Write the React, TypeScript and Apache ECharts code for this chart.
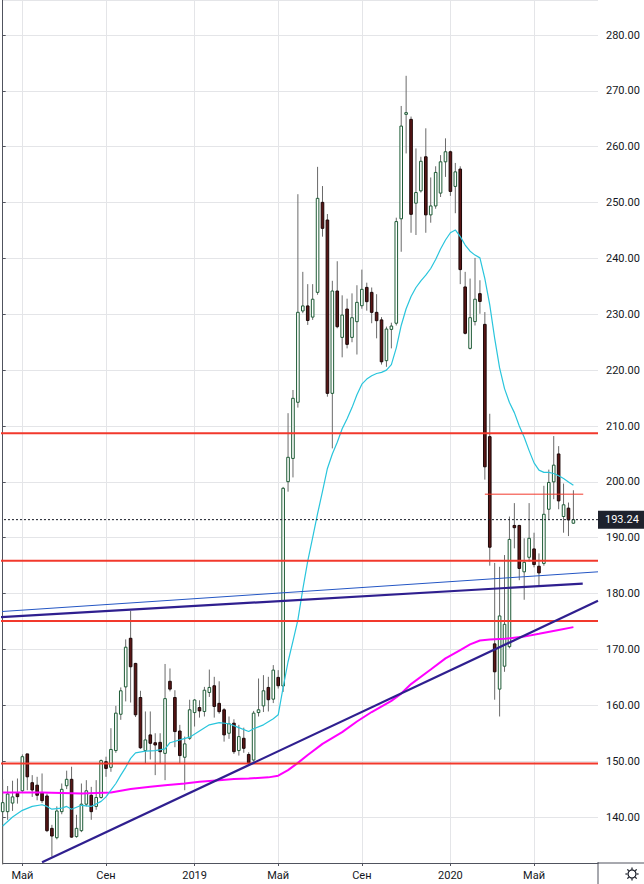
import React, { useEffect, useRef } from "react";
import * as echarts from "echarts";

// ---------- data ----------
const START = Date.UTC(2018, 3, 9);
const WEEKS = 122; // 117 weekly bars + empty space on the right
const categories: string[] = Array.from({ length: WEEKS }, (_, i) =>
  new Date(START + i * 7 * 86400000).toISOString().slice(0, 10)
);

const tickIndex = [4, 21, 39, 56, 73, 91, 108];
const tickText = ["Май", "Сен", "2019", "Май", "Сен", "2020", "Май"];

const open = [
  140.96, 140.96, 142.5, 144.24, 144.7, 151.3, 146.15, 145.7, 144.36, 143.77,
  137.97, 136.3, 140.96, 145.6, 146.75, 136.5, 137.56, 142.3, 143.9, 141.9,
  143.5, 149.9, 148.9, 151.9, 158.4, 163.3, 172.0, 167.5, 161.4, 151.9,
  154.7, 153.3, 153.37, 151.4, 164.3, 161.4, 155.4, 150.7, 154.1, 158.7,
  159.6, 158.9, 162.3, 163.5, 160.35, 159.2, 155.0, 156.8, 151.9, 154.1,
  151.2, 150.2, 158.7, 159.9, 163.2, 161.1, 165.0, 163.46, 200.04, 204.2,
  214.25, 230.6, 231.5, 229.5, 233.93, 250.04, 246.88, 215.85, 234.17, 225.87,
  230.94, 225.87, 228.68, 231.54, 234.82, 233.93, 230.35, 229.0, 221.7, 227.3,
  228.4, 247.1, 265.8, 264.9, 249.9, 252.1, 258.2, 247.8, 249.4, 251.7,
  257.3, 259.1, 252.9, 256.0, 234.9, 223.9, 228.7, 233.7, 228.2, 208.1,
  171.0, 162.9, 167.0, 170.5, 192.2, 192.2, 183.9, 186.5, 188.0, 184.9,
  185.4, 195.1, 200.0, 205.0, 193.8, 195.3, 192.6,
];
const close = [
  142.57, 144.12, 143.6, 143.65, 150.8, 147.2, 144.84, 143.9, 142.93, 137.56,
  136.6, 141.08, 144.96, 146.75, 136.4, 137.97, 142.3, 144.7, 140.96, 143.5,
  150.1, 148.7, 152.1, 158.6, 162.6, 170.4, 166.9, 158.3, 152.4, 153.8,
  153.2, 152.9, 151.7, 161.2, 162.9, 155.3, 151.0, 153.1, 159.2, 160.95,
  159.0, 162.7, 163.2, 159.8, 158.86, 154.7, 156.7, 151.7, 154.4, 152.3,
  149.7, 158.6, 159.2, 162.6, 161.0, 166.3, 163.5, 198.85, 204.4, 214.96,
  230.36, 231.5, 228.9, 232.7, 250.76, 245.39, 215.85, 234.17, 227.78, 229.87,
  224.62, 229.39, 232.14, 234.47, 232.26, 230.35, 228.86, 221.5, 227.36, 227.9,
  246.6, 263.7, 266.1, 247.9, 251.8, 257.4, 247.8, 249.4, 255.4, 257.3,
  259.1, 252.0, 255.5, 238.0, 226.6, 229.4, 232.7, 232.3, 202.7, 188.3,
  166.0, 176.0, 174.5, 189.7, 191.8, 184.5, 185.6, 189.9, 185.2, 183.7,
  194.2, 199.9, 203.0, 196.6, 195.9, 193.2, 193.24,
];
const low = [
  131.5, 139.5, 141.1, 142.4, 144.5, 144.8, 143.6, 143.0, 142.5, 137.3,
  132.9, 136.0, 140.5, 145.0, 136.3, 136.3, 137.3, 141.9, 139.5, 141.3,
  143.3, 147.2, 148.1, 151.5, 157.4, 160.7, 160.5, 157.9, 152.2, 149.6,
  150.3, 147.5, 149.5, 146.6, 162.5, 152.5, 149.6, 144.8, 153.8, 156.2,
  157.8, 158.0, 161.5, 157.8, 158.5, 153.5, 154.0, 151.3, 151.0, 151.5,
  149.2, 149.9, 158.0, 158.8, 158.9, 160.4, 163.0, 162.4, 198.25, 200.8,
  213.3, 230.2, 228.1, 229.0, 233.5, 243.9, 215.25, 206.0, 227.5, 222.3,
  223.9, 225.0, 222.8, 231.0, 230.65, 228.4, 225.7, 221.0, 220.6, 223.9,
  228.0, 241.2, 258.8, 244.6, 244.2, 251.8, 244.6, 246.4, 248.9, 251.0,
  254.6, 251.2, 248.1, 235.4, 226.4, 223.7, 228.0, 230.1, 200.4, 185.0,
  161.0, 158.0, 166.0, 170.2, 188.1, 182.4, 178.9, 185.7, 184.7, 181.5,
  185.0, 193.2, 196.9, 195.1, 190.9, 190.3, 192.5,
];
const high = [
  146.75, 145.55, 146.5, 146.9, 151.2, 151.3, 147.5, 147.2, 147.8, 144.2,
  138.6, 141.9, 146.0, 148.3, 149.0, 140.4, 146.0, 146.6, 145.4, 146.6,
  150.3, 150.8, 155.9, 159.9, 163.2, 171.8, 176.9, 167.6, 162.6, 158.9,
  158.9, 155.0, 155.0, 167.4, 166.6, 162.7, 156.5, 154.4, 161.0, 161.1,
  160.9, 163.3, 166.4, 165.1, 164.3, 159.5, 158.0, 157.5, 156.5, 156.0,
  151.6, 159.0, 164.8, 165.4, 165.1, 167.2, 166.3, 199.1, 212.3, 216.45,
  251.5, 237.6, 235.4, 235.4, 256.4, 252.96, 247.95, 236.0, 239.5, 233.4,
  232.8, 233.75, 235.2, 238.0, 235.66, 234.8, 233.6, 229.5, 227.8, 228.5,
  247.3, 267.3, 272.7, 265.4, 259.7, 258.2, 263.3, 254.5, 256.5, 258.5,
  261.5, 259.3, 257.1, 256.5, 237.6, 236.4, 240.1, 236.1, 230.4, 212.2,
  185.5, 184.8, 186.9, 193.8, 196.2, 192.3, 189.9, 196.2, 190.9, 187.2,
  199.3, 202.2, 208.2, 206.4, 199.7, 196.3, 198.5,
];

// fast moving average (cyan): [week index, price]
const maFast: number[][] = [
  [0, 138.4], [2, 140.0], [4, 141.2], [6, 141.9], [8, 142.2], [9, 141.9], [10, 141.4],
  [12, 141.6], [13, 141.9], [14, 141.4], [16, 142.1], [18, 141.9], [20, 142.8],
  [21, 143.6], [22, 144.8], [23, 146.0], [24, 147.5], [25, 148.9], [26, 150.5],
  [27, 151.5], [29, 151.8], [31, 151.9], [33, 152.2], [34, 153.3], [36, 153.8],
  [38, 154.3], [40, 155.4], [42, 156.5], [44, 156.9], [46, 156.7], [48, 156.0],
  [50, 155.3], [51, 155.8], [53, 156.5], [55, 157.6], [56, 158.3], [57, 163.2],
  [58, 167.8], [59, 171.5], [60, 175.3], [61, 180.8], [62, 185.8], [63, 190.0],
  [64, 194.3], [65, 198.3], [66, 202.4], [67, 205.0], [68, 207.1], [69, 209.5],
  [70, 211.3], [71, 213.3], [72, 215.6], [73, 217.5], [74, 218.4], [75, 219.0],
  [76, 219.4], [77, 219.6], [78, 220.0], [79, 221.0], [80, 224.0], [81, 228.0],
  [82, 231.0], [83, 233.2], [84, 234.8], [85, 236.0], [86, 237.0], [87, 238.2],
  [88, 239.8], [89, 241.7], [90, 243.3], [91, 244.6], [92, 245.1], [93, 243.9],
  [94, 242.4], [95, 241.3], [96, 240.6], [97, 240.1], [98, 236.4], [99, 231.7],
  [100, 225.7], [101, 220.4], [102, 216.7], [103, 214.2], [104, 212.4], [105, 210.0],
  [106, 208.0], [107, 205.6], [108, 203.4], [109, 202.1], [110, 201.7], [111, 201.7],
  [112, 201.5], [113, 201.1], [114, 200.6], [115, 200.0], [116, 199.4],
];

// slow moving average (magenta): [week index, price]
const maSlow: number[][] = [
  [0, 144.4], [8, 144.4], [16, 144.2], [22, 144.4], [26, 145.0], [30, 145.4],
  [33, 145.7], [37, 146.0], [40, 146.3], [44, 146.6], [47, 146.8], [50, 146.9],
  [54, 147.1], [56, 147.4], [58, 148.4], [60, 149.7], [62, 151.1], [65, 153.1],
  [69, 155.2], [72, 157.1], [75, 158.8], [79, 160.8], [81, 162.1], [83, 163.8],
  [87, 166.4], [90, 168.4], [93, 169.9], [95, 170.9], [97, 171.6], [99, 171.8],
  [102, 171.9], [106, 172.3], [109, 172.8], [113, 173.5], [116, 174.0],
];

// horizontal support / resistance levels
const levels = [208.7, 185.9, 175.1, 149.6];
const shortLevel = [[98, 197.8], [118, 197.8]];
// drawn trend lines: [week index, price]
const channelUpper = [[-0.55, 176.77], [121, 183.9]];
const channelLower = [[-0.55, 175.76], [117.9, 181.8]];
const risingTrend = [[8.0, 131.9], [121, 178.7]];
const lastPrice = 193.24;

const Y_MIN = 131.77;
const Y_MAX = 286.27;

// ---------- styles ----------
const FONT = "Roboto, 'Liberation Sans', sans-serif";
const TEXT = "#131722";
const AXIS = "#50535e";
const GRID = "#e4e5e8";
const UP_LINE = "#1e5b36";
const DOWN_FILL = "#5a1616";
const DOWN_LINE = "#1c0808";
const WICK = "#6a6a6a";
const RED = "#f2392c";
const NAVY = "#2f1f8f";
const BLUE = "#2456c4";

export default function App() {
  const ref = useRef<HTMLDivElement>(null);

  useEffect(() => {
    if (!ref.current) return;
    const chart = echarts.init(ref.current, null, { renderer: "svg" });
    const isTick = (idx: number) => tickIndex.indexOf(idx) >= 0;
    const lineBase = {
      type: "line" as const,
      xAxisIndex: 1,
      yAxisIndex: 0,
      symbol: "none",
      clip: false,
      silent: true,
      smooth: false,
    };

    const candleData = open.map((o, i) => [i, o, close[i], low[i], high[i]]);

    const gearChildren: any[] = [
      { type: "circle", shape: { cx: 0, cy: 0, r: 4 }, style: { fill: "none", stroke: TEXT, lineWidth: 1.2 } },
    ];
    for (let k = 0; k < 8; k++) {
      const a = (k * Math.PI) / 4;
      gearChildren.push({
        type: "line",
        shape: { x1: Math.cos(a) * 4.6, y1: Math.sin(a) * 4.6, x2: Math.cos(a) * 6.6, y2: Math.sin(a) * 6.6 },
        style: { stroke: TEXT, lineWidth: 1.2 },
      });
    }

    const option: any = {
      animation: false,
      backgroundColor: "#ffffff",
      textStyle: { fontFamily: FONT },
      grid: { left: 2.7, right: 46, top: 0, bottom: 21, containLabel: false },
      xAxis: [
        {
          type: "category",
          data: categories,
          boundaryGap: false,
          axisLine: { show: true, lineStyle: { color: AXIS, width: 1 } },
          axisTick: { show: true, length: 3, interval: (i: number) => isTick(i), lineStyle: { color: AXIS } },
          axisLabel: {
            interval: (i: number) => isTick(i),
            formatter: (_v: string, i: number) => {
              const k = tickIndex.indexOf(i);
              return k >= 0 ? tickText[k] : "";
            },
            color: TEXT,
            fontSize: 11,
            fontFamily: FONT,
            margin: 7,
          },
          splitLine: { show: true, interval: (i: number) => isTick(i), lineStyle: { color: GRID, width: 1 } },
        },
        { type: "value", min: 0, max: WEEKS - 1, show: false },
      ],
      yAxis: {
        type: "value",
        position: "right",
        min: Y_MIN,
        max: Y_MAX,
        splitNumber: 15,
        scale: true,
        axisLine: { show: true, lineStyle: { color: AXIS, width: 1 } },
        axisTick: { show: true, length: 3, lineStyle: { color: AXIS } },
        axisLabel: {
          formatter: (v: number) => v.toFixed(2),
          showMinLabel: false,
          showMaxLabel: false,
          color: TEXT,
          fontSize: 11,
          fontFamily: FONT,
          margin: 8,
        },
        splitLine: { show: true, lineStyle: { color: GRID, width: 1 } },
      },
      series: [
        {
          type: "custom",
          xAxisIndex: 1,
          yAxisIndex: 0,
          z: 2,
          silent: true,
          data: candleData,
          encode: { x: 0, y: [1, 2, 3, 4] },
          renderItem: (_p: any, api: any) => {
            const i = api.value(0);
            const o = api.value(1);
            const c = api.value(2);
            const l = api.value(3);
            const h = api.value(4);
            const po = api.coord([i, o]);
            const pc = api.coord([i, c]);
            const pl = api.coord([i, l]);
            const ph = api.coord([i, h]);
            const x = po[0];
            const bw = 2.6;
            const top = Math.min(po[1], pc[1]);
            const bot = Math.max(po[1], pc[1]);
            const up = c >= o;
            return {
              type: "group",
              children: [
                { type: "line", shape: { x1: x, y1: ph[1], x2: x, y2: pl[1] }, style: { stroke: WICK, lineWidth: 1 } },
                {
                  type: "rect",
                  shape: { x: x - bw / 2, y: top, width: bw, height: Math.max(bot - top, 0.8) },
                  style: { fill: up ? "#ffffff" : DOWN_FILL, stroke: up ? UP_LINE : DOWN_LINE, lineWidth: 1 },
                },
              ],
            };
          },
        },
        { ...lineBase, z: 3, data: maSlow, lineStyle: { color: "#ff00ff", width: 2 } },
        { ...lineBase, z: 3, data: maFast, lineStyle: { color: "#29c5dc", width: 1.2 } },
        ...levels.map((lv) => ({
          ...lineBase,
          z: 4,
          data: [[-0.55, lv], [WEEKS - 1, lv]],
          lineStyle: { color: RED, width: 2 },
        })),
        { ...lineBase, z: 4, data: shortLevel, lineStyle: { color: RED, width: 1 } },
        { ...lineBase, z: 4, data: channelUpper, lineStyle: { color: BLUE, width: 1 } },
        { ...lineBase, z: 4, data: channelLower, lineStyle: { color: NAVY, width: 2.2 } },
        { ...lineBase, z: 4, data: risingTrend, lineStyle: { color: NAVY, width: 2.2 } },
        {
          ...lineBase,
          z: 5,
          data: [[-0.55, lastPrice], [WEEKS - 1, lastPrice]],
          lineStyle: { color: "#131722", width: 1, type: [2, 2] },
          endLabel: {
            show: true,
            formatter: () => lastPrice.toFixed(2),
            color: "#ffffff",
            backgroundColor: "#1e222d",
            padding: [4, 6, 3, 7],
            fontSize: 11,
            fontFamily: FONT,
            distance: 0,
          },
        },
      ],
      graphic: [
        { type: "line", shape: { x1: 598, y1: 862, x2: 598, y2: 884 }, style: { stroke: AXIS, lineWidth: 1 } },
        { type: "line", shape: { x1: 598, y1: 863, x2: 644, y2: 863 }, style: { stroke: AXIS, lineWidth: 1 } },
        { type: "group", x: 632, y: 874, children: gearChildren },
      ],
    };
    chart.setOption(option);
    return () => chart.dispose();
  }, []);

  return (
    <div
      ref={ref}
      style={{ position: "fixed", left: 0, top: 0, width: 644, height: 884, background: "#ffffff" }}
    />
  );
}
